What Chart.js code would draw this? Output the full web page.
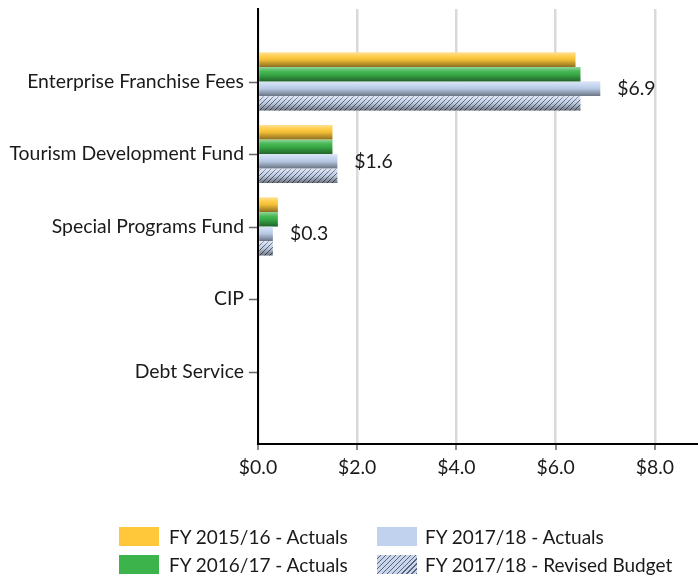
<!DOCTYPE html>
<html>
<head>
<meta charset="utf-8">
<script src="https://cdn.jsdelivr.net/npm/chart.js@4"></script>
<style>
  body { margin: 0; background: #fff; }
  #wrap { position: relative; width: 698px; height: 578px; }
  #legend { position: absolute; left: 0; top: 0; font-family: Lato, sans-serif; font-size: 19px; color: #1a1a1a; }
  .box { position: absolute; width: 40px; height: 19px; }
  .txt { position: absolute; line-height: 20px; white-space: nowrap; }
</style>
</head>
<body>
<div id="wrap">
  <canvas id="chart" width="698" height="578"></canvas>
  <div id="legend"></div>
</div>
<script>
const categories = ["Enterprise Franchise Fees", "Tourism Development Fund", "Special Programs Fund", "CIP", "Debt Service"];
const seriesNames = ["FY 2015/16 - Actuals", "FY 2016/17 - Actuals", "FY 2017/18 - Actuals", "FY 2017/18 - Revised Budget"];
const fy1516 = [6.4, 1.5, 0.4, 0, 0];
const fy1617 = [6.5, 1.5, 0.4, 0, 0];
const fy1718 = [6.9, 1.6, 0.3, 0, 0];
const fy1718Budget = [6.5, 1.6, 0.3, 0, 0];
const xTicks = [0, 2, 4, 6, 8];

const ctx = document.getElementById("chart");
const c2d = ctx.getContext("2d");

// hatch pattern for the revised budget series
function hatch() {
    const p = document.createElement("canvas");
    p.width = 5; p.height = 5;
    const g = p.getContext("2d");
    g.fillStyle = "#c9d5ea";
    g.fillRect(0, 0, 5, 5);
    g.strokeStyle = "#56647d";
    g.lineWidth = 1;
    g.beginPath();
    g.moveTo(-1, 6); g.lineTo(6, -1);
    g.moveTo(-1, 1); g.lineTo(1, -1);
    g.moveTo(4, 6); g.lineTo(6, 4);
    g.stroke();
    return c2d.createPattern(p, "repeat");
}

const colors = ["#ffc83a", "#3cb44b", "#c0d2ee", hatch()];

// pad so the categories sit on the tick marks like the original
const pad = arr => [null, ...arr, null];

const shading = {
    id: "shading",
    afterDatasetsDraw(chart) {
        const c = chart.ctx;
        chart.data.datasets.forEach((ds, i) => {
            chart.getDatasetMeta(i).data.forEach((bar, j) => {
                const v = ds.data[j];
                if (!v) return;
                const h = bar.height;
                const top = bar.y - h / 2;
                const gr = c.createLinearGradient(0, top, 0, top + h);
                gr.addColorStop(0, "rgba(255,255,255,0.45)");
                gr.addColorStop(0.3, "rgba(255,255,255,0.05)");
                gr.addColorStop(0.5, "rgba(0,0,0,0.05)");
                gr.addColorStop(1, "rgba(0,0,0,0.45)");
                c.save();
                c.fillStyle = gr;
                c.fillRect(bar.base, top, bar.x - bar.base, h);
                c.restore();
            });
        });
        // labels for FY 2017/18 actuals
        const meta = chart.getDatasetMeta(2);
        c.save();
        c.font = "19.4px Lato";
        c.fillStyle = "#1a1a1a";
        c.textAlign = "left";
        c.textBaseline = "middle";
        meta.data.forEach((bar, j) => {
            const v = chart.data.datasets[2].data[j];
            if (!v) return;
            c.fillText("$" + v.toFixed(1), bar.x + 17, bar.y);
        });
        c.restore();
    },
    afterDraw(chart) {
        // small tick marks outside both axes
        const c = chart.ctx;
        const y = chart.scales.y, x = chart.scales.x;
        c.save();
        c.strokeStyle = "#666";
        c.lineWidth = 1.5;
        c.beginPath();
        y.ticks.forEach((t, i) => {
            const py = Math.round(y.getPixelForTick(i)) + 0.5;
            c.moveTo(y.right - 9, py); c.lineTo(y.right - 1, py);
        });
        x.ticks.forEach((t, i) => {
            const px = Math.round(x.getPixelForTick(i));
            c.moveTo(px, x.top + 1); c.lineTo(px, x.top + 6);
        });
        c.stroke();
        c.restore();
    }
};

new Chart(ctx, {
    type: "bar",
    data: {
        labels: pad(categories),
        datasets: [fy1516, fy1617, fy1718, fy1718Budget].map((d, i) => ({
            label: seriesNames[i],
            data: pad(d),
            backgroundColor: colors[i],
            borderWidth: 0,
            categoryPercentage: 0.8,
            barPercentage: 1
        }))
    },
    options: {
        indexAxis: "y",
        responsive: false,
        animation: false,
        layout: { padding: { top: 9, right: 0, left: 0, bottom: 0 } },
        plugins: {
            legend: { display: false },
            tooltip: { enabled: false }
        },
        scales: {
            y: {
                offset: false,
                grid: { offset: false, drawOnChartArea: false, drawTicks: false },
                border: { color: "#000", width: 2 },
                ticks: { color: "#1a1a1a", font: { family: "Lato", size: 19.4 }, padding: 14, autoSkip: false },
                afterFit: s => { s.width = 258; s.paddingTop = 0; s.paddingBottom = 0; }
            },
            x: {
                min: 0,
                max: 8.87,
                grid: { color: "#d9d9d9", lineWidth: 2.5, drawTicks: false },
                border: { color: "#000", width: 2 },
                afterBuildTicks: s => { s.ticks = xTicks.map(v => ({ value: v })); },
                ticks: {
                    color: "#1a1a1a",
                    font: { family: "Lato", size: 19.4 },
                    padding: 12,
                    callback: v => "$" + v.toFixed(1)
                },
                afterFit: s => { s.height = 578 - 444; }
            }
        }
    },
    plugins: [shading]
});

// legend laid out in two columns like the original
const legend = document.getElementById("legend");
const legendPos = [[119, 527], [119, 555], [377, 527], [377, 555]];
const legendBg = ["#ffc83a", "#3cb44b", "#c0d2ee",
    "repeating-linear-gradient(135deg, #c9d5ea 0 2.4px, #56647d 2.4px 3.5px)"];
seriesNames.forEach((name, i) => {
    const [x, y] = legendPos[i];
    const b = document.createElement("div");
    b.className = "box";
    b.style.left = x + "px"; b.style.top = y + "px";
    b.style.background = legendBg[i];
    const t = document.createElement("div");
    t.className = "txt";
    t.style.left = (x + (i < 2 ? 50 : 48)) + "px"; t.style.top = y + "px";
    t.textContent = name;
    legend.appendChild(b);
    legend.appendChild(t);
});
</script>
</body>
</html>
